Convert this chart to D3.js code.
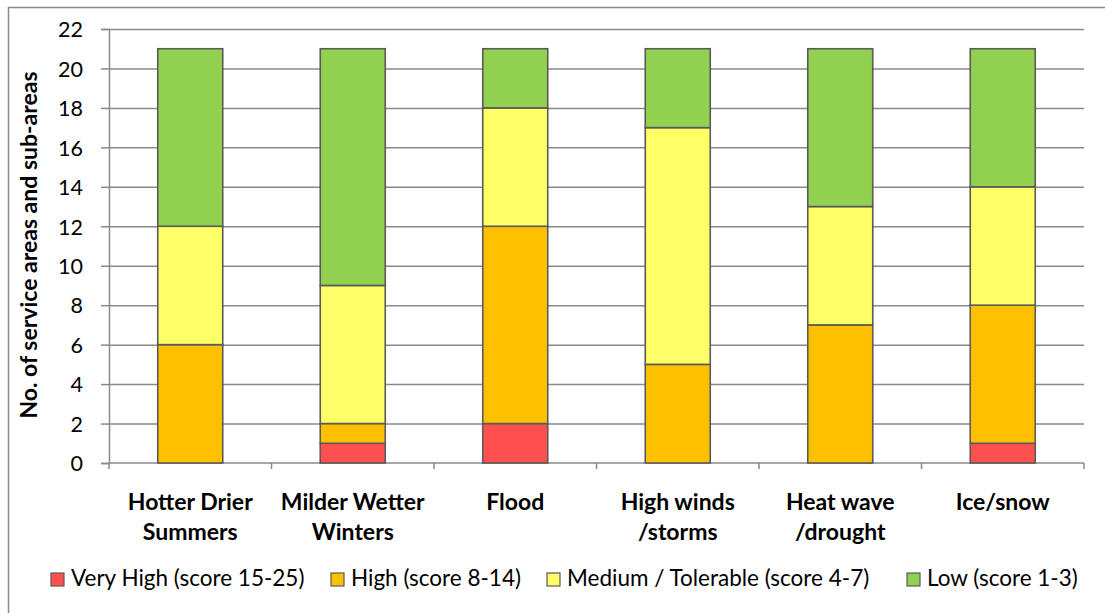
<!DOCTYPE html>
<html>
<head>
<meta charset="utf-8">
<script src="https://cdn.jsdelivr.net/npm/d3@7"></script>
<style>
  html, body { margin: 0; padding: 0; background: #fff; }
  svg { display: block; font-family: Lato, "Open Sans", sans-serif; }
</style>
</head>
<body>
<svg id="chart" width="1105" height="613"></svg>
<script>
// Risk rating counts per climate hazard
const categories = [
  ["Hotter Drier", "Summers"],
  ["Milder Wetter", "Winters"],
  ["Flood"],
  ["High winds", "/storms"],
  ["Heat wave", "/drought"],
  ["Ice/snow"]
];
const seriesNames = [
  "Very High (score 15-25)",
  "High (score 8-14)",
  "Medium / Tolerable (score 4-7)",
  "Low (score 1-3)"
];
const veryHigh = [0, 1, 2, 0, 0, 1];
const high     = [6, 1, 10, 5, 7, 7];
const medium   = [6, 7, 6, 12, 6, 6];
const low      = [9, 12, 3, 4, 8, 7];
const yTicks = [0, 2, 4, 6, 8, 10, 12, 14, 16, 18, 20, 22];
const colors = ["#FF5050", "#FFC000", "#FFFF66", "#92D050"];
const legendX = [51, 331, 547, 907];

const svg = d3.select("#chart");
const plot = { left: 109, right: 1084, top: 29, bottom: 463 };

// outer chart frame
svg.append("rect")
  .attr("x", 8.5).attr("y", 7.5)
  .attr("width", 1200).attr("height", 700)
  .attr("fill", "none").attr("stroke", "#8a8a8a").attr("stroke-width", 1.5);

const idx = d3.range(categories.length);
const x = d3.scaleBand().domain(idx).range([plot.left, plot.right]).paddingInner(0.6).paddingOuter(0.3);
const xOuter = d3.scaleBand().domain(idx).range([plot.left, plot.right]);
const y = d3.scaleLinear().domain([0, 22]).range([plot.bottom, plot.top]);

// horizontal gridlines + y ticks
const yAxis = d3.axisLeft(y).tickValues(yTicks).tickSize(8).tickPadding(18).tickFormat(d3.format("d"));
const gy = svg.append("g").attr("transform", `translate(${plot.left},0)`).call(yAxis);
gy.select(".domain").attr("stroke", "#8a8a8a").attr("stroke-width", 1.5);
gy.selectAll(".tick line").attr("stroke", "#8a8a8a").attr("stroke-width", 1.5);
gy.selectAll(".tick text").attr("font-size", 21.5).attr("fill", "#000")
  .attr("font-family", "Lato, sans-serif").attr("dy", "0.36em");
gy.selectAll(".tick").filter(d => d > 0).append("line")
  .attr("x1", 0).attr("x2", plot.right - plot.left)
  .attr("stroke", "#8a8a8a").attr("stroke-width", 1.5);

// x axis line with category boundary ticks
svg.append("line")
  .attr("x1", plot.left).attr("x2", plot.right)
  .attr("y1", y(0)).attr("y2", y(0))
  .attr("stroke", "#8a8a8a").attr("stroke-width", 1.5);
const bounds = idx.map(i => xOuter(i)).concat([plot.right]);
svg.selectAll(".xtick").data(bounds).join("line")
  .attr("class", "xtick")
  .attr("x1", d => d).attr("x2", d => d)
  .attr("y1", y(0)).attr("y2", y(0) + 6)
  .attr("stroke", "#8a8a8a").attr("stroke-width", 1.5);

// stacked bars
const rows = idx.map(i => ({ i, v0: veryHigh[i], v1: high[i], v2: medium[i], v3: low[i] }));
const stack = d3.stack().keys(["v0", "v1", "v2", "v3"]);
const layers = stack(rows);
svg.append("g").selectAll("g").data(layers).join("g")
  .attr("fill", (d, k) => colors[k])
  .selectAll("rect").data(d => d.filter(s => s[1] > s[0])).join("rect")
  .attr("x", d => x(d.data.i))
  .attr("width", x.bandwidth())
  .attr("y", d => y(d[1]))
  .attr("height", d => y(d[0]) - y(d[1]))
  .attr("stroke", "#5a5a5a").attr("stroke-width", 1.6);

// category labels
const cl = svg.append("g");
categories.forEach((lines, i) => {
  const t = cl.append("text")
    .attr("x", xOuter(i) + xOuter.bandwidth() / 2)
    .attr("y", 510)
    .attr("text-anchor", "middle")
    .attr("font-size", 23).attr("font-weight", "bold").attr("fill", "#000");
  lines.forEach((ln, k) => t.append("tspan")
    .attr("x", xOuter(i) + xOuter.bandwidth() / 2)
    .attr("dy", k === 0 ? 0 : 30).text(ln));
});

// y axis title
svg.append("text")
  .attr("transform", `translate(37,245) rotate(-90)`)
  .attr("text-anchor", "middle")
  .attr("font-size", 23).attr("font-weight", "bold").attr("fill", "#000")
  .text("No. of service areas and sub-areas");

// legend
const lg = svg.append("g");
seriesNames.forEach((name, k) => {
  lg.append("rect")
    .attr("x", legendX[k]).attr("y", 573)
    .attr("width", 13).attr("height", 13)
    .attr("fill", colors[k]).attr("stroke", "#5a5a5a").attr("stroke-width", 1.2);
  lg.append("text")
    .attr("x", legendX[k] + 20).attr("y", 586)
    .attr("font-size", 22.5).attr("fill", "#000")
    .text(name);
});
</script>
</body>
</html>
